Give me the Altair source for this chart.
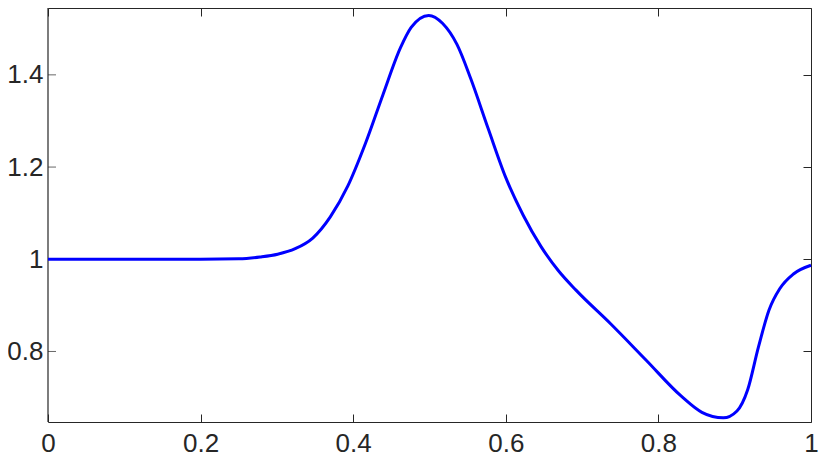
import altair as alt
import pandas as pd

xs = [0.0, 0.1, 0.2, 0.25, 0.278, 0.301, 0.324, 0.347, 0.370, 0.393, 0.416, 0.439,
      0.462, 0.476, 0.499, 0.517, 0.536, 0.554, 0.577, 0.600, 0.623, 0.646, 0.669,
      0.692, 0.738, 0.784, 0.830, 0.857, 0.885, 0.903, 0.917, 0.931, 0.945, 0.959,
      0.977, 1.0]
ys = [1.0, 1.0, 1.0, 1.001, 1.005, 1.011, 1.023, 1.046, 1.092, 1.159, 1.251, 1.357,
      1.459, 1.503, 1.529, 1.512, 1.466, 1.392, 1.283, 1.177, 1.095, 1.028, 0.975,
      0.933, 0.859, 0.781, 0.703, 0.668, 0.656, 0.671, 0.717, 0.809, 0.890, 0.936,
      0.968, 0.987]
x_ticks = [0, 0.2, 0.4, 0.6, 0.8, 1]
y_ticks = [0.8, 1.0, 1.2, 1.4]

df = pd.DataFrame({"x": xs, "y": ys})
df_yt = pd.DataFrame({"v": y_ticks, "x0": [0.0] * len(y_ticks)})
df_edge = pd.DataFrame({"x0": [0.0], "y0": [0.647], "y1": [1.545]})

W, H = 763, 414
xdom = [0, 1]
ydom = [0.647, 1.545]
AX = "#262626"
FONT = "Liberation Sans"

xs_scale = alt.Scale(domain=xdom, nice=False, zero=False)
ys_scale = alt.Scale(domain=ydom, nice=False, zero=False)

def tick_axis(orient, offset, values):
    return alt.Axis(orient=orient, offset=offset, values=values, labels=False,
                    ticks=True, tickSize=8, tickColor=AX, tickWidth=1,
                    domain=True, domainColor=AX, domainWidth=1,
                    grid=False, title=None)

base = alt.Chart(df)

main = base.mark_line(color="#0000FF", strokeWidth=3, interpolate="monotone").encode(
    x=alt.X("x:Q", scale=xs_scale,
            axis=alt.Axis(orient="bottom", values=x_ticks, format="~g", ticks=False,
                          domain=False, grid=False, title=None,
                          labelFont=FONT, labelFontSize=26, labelColor=AX,
                          labelPadding=8, labelFlush=False)),
    y=alt.Y("y:Q", scale=ys_scale,
            axis=alt.Axis(orient="left", values=y_ticks, format="~g", ticks=False,
                          domain=False, grid=False, title=None,
                          labelFont=FONT, labelFontSize=26, labelColor=AX,
                          labelPadding=5)),
)

# bottom edge (ticks pointing up)
ticks_a = base.mark_line(strokeOpacity=0).encode(
    x=alt.X("x:Q", scale=xs_scale, axis=tick_axis("top", -H, x_ticks)),
    y=alt.Y("y:Q", scale=ys_scale, axis=None),
)

# top edge (ticks pointing down) and right edge (ticks pointing left)
ticks_b = base.mark_line(strokeOpacity=0).encode(
    x=alt.X("x:Q", scale=xs_scale, axis=tick_axis("bottom", -H, x_ticks)),
    y=alt.Y("y:Q", scale=ys_scale, axis=tick_axis("left", -W, y_ticks)),
)

# left edge: frame line and inward ticks
left_line = alt.Chart(df_edge).mark_rule(color=AX, strokeWidth=1.2).encode(
    x=alt.X("x0:Q", scale=xs_scale, axis=None),
    y=alt.Y("y0:Q", scale=ys_scale, axis=None),
    y2="y1:Q",
)
left_ticks = alt.Chart(df_yt).mark_tick(color=AX, thickness=1, size=8,
                                        orient="horizontal", xOffset=4).encode(
    x=alt.X("x0:Q", scale=xs_scale, axis=None),
    y=alt.Y("v:Q", scale=ys_scale, axis=None),
)

chart = alt.layer(ticks_a, ticks_b, left_line, left_ticks, main).resolve_axis(
    x="independent", y="independent"
).properties(
    width=W, height=H,
    autosize=alt.AutoSizeParams(type="none"),
    padding={"left": 40, "top": 0, "right": 8, "bottom": 36},
).configure_view(stroke=None)

chart.save("out.html", embed_options={"renderer": "svg", "actions": False})
